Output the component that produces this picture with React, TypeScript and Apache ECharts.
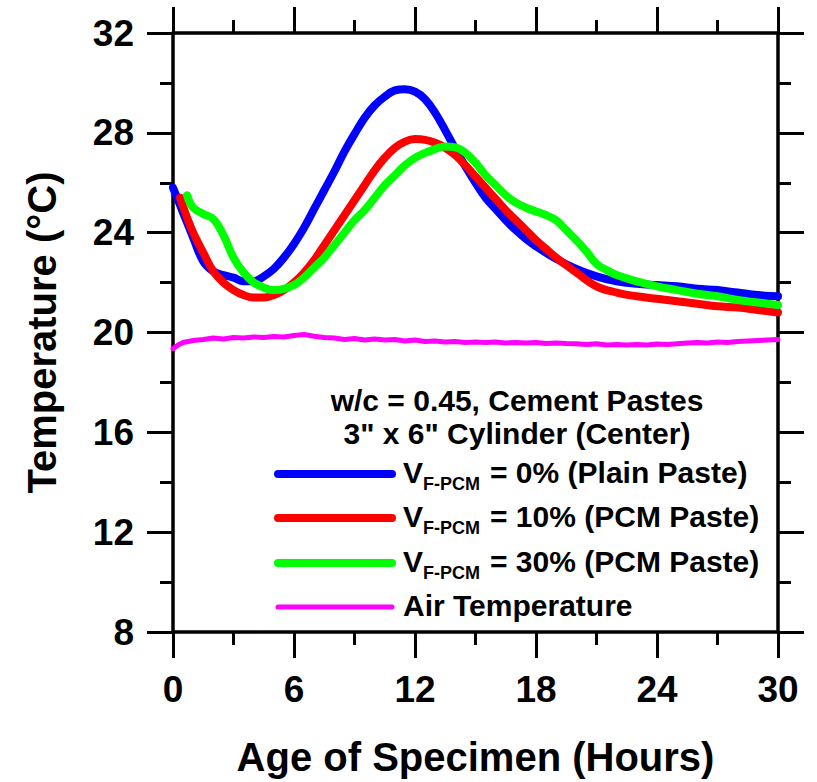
import React, { useEffect, useRef } from "react";
import * as echarts from "echarts";

const FONT = '"Liberation Sans", Arial, Helvetica, sans-serif';

// Tick settings (hours, °C)
const xMin = 0;
const xMax = 30;
const xStep = 6;
const yMin = 8;
const yMax = 32;
const yStep = 4;

// V_F-PCM = 0% (Plain Paste)
const plainHours = [0, 0.5, 1, 1.5, 2, 2.5, 3, 3.5, 4, 4.5, 5, 5.5, 6, 6.5, 7, 7.5, 8, 8.5, 9, 9.5, 10, 10.5, 11, 11.5, 12, 12.5, 13, 13.5, 14, 14.5, 15, 15.5, 16, 16.5, 17, 17.5, 18, 19, 20, 21, 22, 23, 24, 25, 26, 27, 28, 29, 30];
const plainTemps = [25.8, 24.8, 23.8, 22.85, 22.45, 22.3, 22.2, 22.05, 22.05, 22.25, 22.55, 23.0, 23.55, 24.2, 24.95, 25.7, 26.45, 27.25, 27.95, 28.6, 29.1, 29.45, 29.7, 29.75, 29.65, 29.35, 28.8, 28.1, 27.35, 26.65, 26.0, 25.4, 24.95, 24.5, 24.1, 23.75, 23.45, 22.95, 22.55, 22.25, 22.05, 21.95, 21.9, 21.85, 21.75, 21.7, 21.6, 21.5, 21.45];

// V_F-PCM = 10% (PCM Paste)
const pcm10Hours = [0.35, 0.7, 1, 1.5, 2, 2.5, 3, 3.5, 4, 4.5, 5, 5.5, 6, 6.5, 7, 7.5, 8, 8.5, 9, 9.5, 10, 10.5, 11, 11.5, 12, 12.5, 13, 13.5, 14, 14.5, 15, 15.5, 16, 16.5, 17, 17.5, 18, 18.5, 19, 19.5, 20, 21, 22, 23, 24, 25, 26, 27, 28, 29, 30];
const pcm10Temps = [25.4, 24.6, 24.0, 23.2, 22.45, 22.0, 21.7, 21.5, 21.4, 21.4, 21.5, 21.7, 22.0, 22.4, 22.9, 23.5, 24.1, 24.7, 25.3, 25.9, 26.5, 27.0, 27.4, 27.65, 27.75, 27.72, 27.6, 27.4, 27.1, 26.7, 26.25, 25.8, 25.35, 24.9, 24.5, 24.1, 23.7, 23.35, 23.0, 22.7, 22.4, 21.85, 21.6, 21.45, 21.35, 21.25, 21.15, 21.05, 21.0, 20.9, 20.8];

// V_F-PCM = 30% (PCM Paste)
const pcm30Hours = [0.7, 1, 1.5, 2, 2.5, 3, 3.5, 4, 4.5, 5, 5.5, 6, 6.5, 7, 7.5, 8, 8.5, 9, 9.5, 10, 10.5, 11, 11.5, 12, 12.5, 13, 13.5, 14, 14.5, 15, 15.5, 16, 16.5, 17, 17.5, 18, 18.5, 19, 19.5, 20, 20.5, 21, 21.5, 22, 23, 24, 25, 26, 27, 28, 29, 30];
const pcm30Temps = [25.5, 25.0, 24.75, 24.55, 23.9, 23.0, 22.4, 22.0, 21.8, 21.7, 21.75, 21.9, 22.2, 22.6, 23.0, 23.5, 24.0, 24.5, 24.9, 25.4, 25.9, 26.3, 26.7, 27.0, 27.2, 27.35, 27.45, 27.42, 27.2, 26.8, 26.3, 25.9, 25.5, 25.2, 25.0, 24.85, 24.7, 24.5, 24.1, 23.7, 23.25, 22.75, 22.5, 22.3, 22.05, 21.85, 21.7, 21.55, 21.45, 21.3, 21.2, 21.1];

// Air Temperature
const airHours = [0, 0.25, 0.5, 1, 1.5, 2, 2.5, 3, 3.5, 4, 4.5, 5, 5.5, 6, 6.5, 7, 7.5, 8, 8.5, 9, 9.5, 10, 10.5, 11, 11.5, 12, 12.5, 13, 13.5, 14, 14.5, 15, 15.5, 16, 16.5, 17, 17.5, 18, 18.5, 19, 19.5, 20, 20.5, 21, 21.5, 22, 22.5, 23, 23.5, 24, 24.5, 25, 25.5, 26, 26.5, 27, 27.5, 28, 28.5, 29, 29.5, 30];
const airTemps = [19.35, 19.5, 19.6, 19.68, 19.72, 19.78, 19.74, 19.8, 19.78, 19.82, 19.8, 19.84, 19.82, 19.88, 19.92, 19.85, 19.8, 19.78, 19.72, 19.76, 19.7, 19.74, 19.7, 19.72, 19.66, 19.7, 19.64, 19.66, 19.62, 19.64, 19.6, 19.62, 19.6, 19.62, 19.58, 19.6, 19.58, 19.6, 19.56, 19.58, 19.56, 19.55, 19.52, 19.55, 19.5, 19.52, 19.5, 19.52, 19.5, 19.54, 19.52, 19.55, 19.58, 19.6, 19.58, 19.62, 19.6, 19.64, 19.66, 19.68, 19.7, 19.72];

const seriesNames = [
  "V_F-PCM = 0% (Plain Paste)",
  "V_F-PCM = 10% (PCM Paste)",
  "V_F-PCM = 30% (PCM Paste)",
  "Air Temperature",
];
const seriesColors = ["#0000ff", "#ff0000", "#00ff00", "#ff00ff"];

const zip = (xs: number[], ys: number[]) => xs.map((x, i) => [x, ys[i]]);

function axisCommon(showLabel: boolean) {
  return {
    type: "value",
    axisLine: { show: true, onZero: false, lineStyle: { color: "#000", width: 3.5 } },
    axisTick: { show: true, inside: false, length: 26, lineStyle: { color: "#000", width: 3 } },
    minorTick: { show: true, splitNumber: 2, length: 13, lineStyle: { color: "#000", width: 3 } },
    splitLine: { show: false },
    minorSplitLine: { show: false },
    axisLabel: {
      show: showLabel,
      margin: 39,
      color: "#000",
      fontSize: 37,
      fontWeight: "bold",
      fontFamily: FONT,
    },
  };
}

function xAxisBase(position: "bottom" | "top", showLabel: boolean) {
  return { ...axisCommon(showLabel), position, min: xMin, max: xMax, interval: xStep };
}

function yAxisBase(position: "left" | "right", showLabel: boolean) {
  return { ...axisCommon(showLabel), position, min: yMin, max: yMax, interval: yStep };
}

function legendGraphics() {
  const els: any[] = [];
  const txt = (x: number, y: number, text: string, size: number, align = "left") => ({
    type: "text",
    x,
    y,
    silent: true,
    style: {
      text,
      fill: "#000",
      fontSize: size,
      fontWeight: "bold",
      fontFamily: FONT,
      align,
      verticalAlign: "middle",
    },
  });
  els.push(txt(517, 400, "w/c = 0.45, Cement Pastes", 30, "center"));
  els.push(txt(517, 433, '3" x 6" Cylinder (Center)', 30, "center"));
  const rows = [474, 518, 563, 607];
  const widths = [8, 8, 8, 5];
  rows.forEach((ry, i) => {
    els.push({
      type: "line",
      silent: true,
      shape: { x1: 278, y1: ry, x2: 392, y2: ry },
      style: { stroke: seriesColors[i], lineWidth: widths[i], lineCap: "round" },
    });
    if (i < 3) {
      const parts = seriesNames[i].split(" = ");
      els.push(txt(403, ry - 2, "V", 30));
      els.push(txt(423, ry + 10, "F-PCM", 18));
      els.push(txt(490, ry - 2, "= " + parts[1], 30));
    } else {
      els.push(txt(403, ry - 2, seriesNames[i], 30));
    }
  });
  return els;
}

export default function App() {
  const ref = useRef<HTMLDivElement>(null);
  useEffect(() => {
    if (!ref.current) return;
    document.body.style.margin = "0";
    document.body.style.overflow = "hidden";
    const chart = echarts.init(ref.current, undefined, { renderer: "svg" });
    const lineSeries = (idx: number, data: number[][], width: number, smooth: boolean | number) => ({
      type: "line",
      name: seriesNames[idx],
      data,
      xAxisIndex: 0,
      yAxisIndex: 0,
      showSymbol: false,
      symbol: "none",
      smooth,
      lineStyle: { color: seriesColors[idx], width, cap: "round", join: "round" },
      itemStyle: { color: seriesColors[idx] },
      emphasis: { disabled: true },
    });
    const xBottom: any = xAxisBase("bottom", true);
    xBottom.name = "Age of Specimen (Hours)";
    xBottom.nameLocation = "middle";
    xBottom.nameGap = 105;
    xBottom.nameMoveOverlap = false;
    xBottom.nameTextStyle = { color: "#000", fontSize: 40, fontWeight: "bold", fontFamily: FONT };
    const yLeft: any = yAxisBase("left", true);
    yLeft.name = "Temperature (°C)";
    yLeft.nameLocation = "middle";
    yLeft.nameRotate = 90;
    yLeft.nameGap = 111;
    yLeft.nameMoveOverlap = false;
    yLeft.nameTextStyle = { color: "#000", fontSize: 40, fontWeight: "bold", fontFamily: FONT };
    chart.setOption({
      animation: false,
      backgroundColor: "#ffffff",
      textStyle: { fontFamily: FONT },
      grid: { left: 173, right: 39, top: 33, bottom: 144, containLabel: false },
      xAxis: [xBottom, xAxisBase("top", false)],
      yAxis: [yLeft, yAxisBase("right", false)],
      legend: { show: false },
      tooltip: { show: false },
      series: [
        lineSeries(3, zip(airHours, airTemps), 5, false),
        lineSeries(0, zip(plainHours, plainTemps), 8, 0.4),
        lineSeries(1, zip(pcm10Hours, pcm10Temps), 8, 0.4),
        lineSeries(2, zip(pcm30Hours, pcm30Temps), 8, 0.4),
      ],
      graphic: legendGraphics(),
    });
    return () => chart.dispose();
  }, []);
  return <div ref={ref} style={{ width: 817, height: 782, background: "#fff" }} />;
}
